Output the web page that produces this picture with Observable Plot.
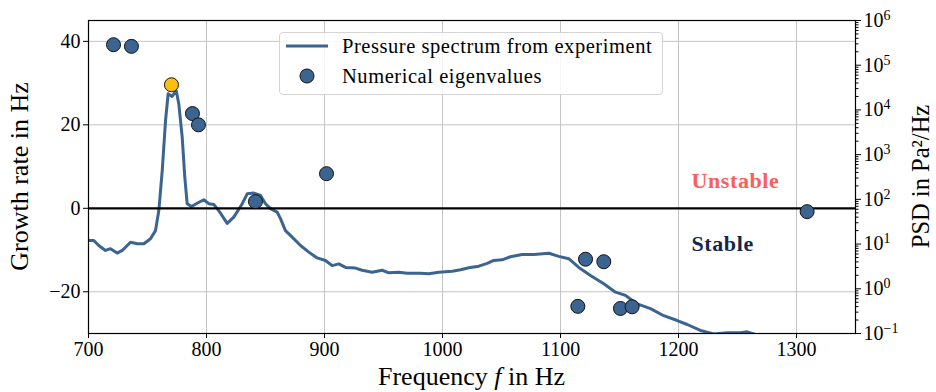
<!DOCTYPE html>
<html>
<head>
<meta charset="utf-8">
<script src="https://cdn.jsdelivr.net/npm/d3@7"></script>
<script src="https://cdn.jsdelivr.net/npm/@observablehq/plot@0.6"></script>
<style>
  html, body { margin: 0; padding: 0; background: #fff; }
  #wrap { position: relative; width: 936px; height: 392px; font-family: "Liberation Serif", serif; }
  #legend { position: absolute; left: 279px; top: 32px; width: 384px; height: 63px;
    border: 1px solid #d4d4d4; border-radius: 4px; background: rgba(255,255,255,0.85); box-sizing: border-box; }
</style>
</head>
<body>
<div id="wrap"></div>
<script>
// ---- data ----
const psdFreq = [700,704.5,708.7,714.4,718.6,724.3,728.6,735.6,741.3,746.9,752.5,756.8,759.6,762.5,765.3,767.5,770.9,774.3,776.5,779.4,781.6,783.6,787.3,792.1,797.7,801.9,806.2,811.9,817.5,823.1,830.3,834.5,840.1,845.8,850,854.2,859.9,862.7,866.9,872.6,879.7,886.7,893.8,900.8,906.5,912.1,917.8,926.3,931.9,940.4,948.9,954.5,963,970.1,981.4,988.4,996.9,1008.2,1015.3,1022.3,1030.8,1037.9,1043.5,1050.6,1057.6,1067.5,1077.4,1090.1,1098.6,1107,1115.5,1125.4,1136.7,1146.6,1155.1,1165,1176.3,1187.5,1198.9,1207.4,1218.6,1224.3,1229.9,1241.3,1252.5,1258.2,1263.8,1272,1285];
const psdValue = [12,12,9.3,7.2,7.9,6.3,7.2,11,10.2,10.2,13.1,20,56,443,5820,23000,20000,27300,13800,2460,314,80,69,82,98,80,77,49,29,40,80,133,138,122,80,62,52,37,20,14.3,9.3,6.6,4.9,4.3,3.3,3.6,3.0,2.9,2.6,2.35,2.6,2.28,2.35,2.23,2.23,2.17,2.35,2.48,2.66,2.95,3.2,3.7,4.3,4.45,5.2,5.85,5.85,6.25,5.3,4.7,3.0,1.99,1.29,0.84,0.71,0.46,0.36,0.25,0.195,0.159,0.117,0.107,0.098,0.104,0.104,0.109,0.098,0.08,0.06];

const eigFreq   = [721.2, 736.4, 770.3, 788.1, 793.2, 841.5, 901.7, 1309, 1121.2, 1136.7, 1114.7, 1150.8, 1160.7];
const eigGrowth = [39.2, 38.8, 29.6, 22.7, 20.0, 1.6, 8.3, -0.8, -12.2, -12.8, -23.5, -24.0, -23.6];
const eigHighlight = [false, false, true, false, false, false, false, false, false, false, false, false, false];

const xTicks = [700, 800, 900, 1000, 1100, 1200, 1300];
const yTicks = [-20, 0, 20, 40];
const psdTicks = [1e-1, 1e0, 1e1, 1e2, 1e3, 1e4, 1e5, 1e6];

const regionLabels = [
  {f: 1211, g: 6.6, text: "Unstable", color: "#ff5c5c"},
  {f: 1211, g: -8.6, text: "Stable", color: "#14264f"}
];

const legendLabels = ["Pressure spectrum from experiment", "Numerical eigenvalues"];

// ---- build tables ----
const psdData = psdFreq.map((f, i) => ({f, v: psdValue[i]}));
const eigData = eigFreq.map((f, i) => ({f, g: eigGrowth[i], hi: eigHighlight[i]}));
const psdMinor = [];
for (let e = -1; e < 6; e++) for (let k = 2; k <= 9; k++) psdMinor.push(k * Math.pow(10, e));

const BLUE = "#3b6491";
const common = {
  width: 936, height: 392,
  marginLeft: 88, marginRight: 81, marginTop: 20, marginBottom: 59,
  style: {fontFamily: "Liberation Serif, serif", fontSize: "20px", color: "#000", background: "transparent", overflow: "visible"}
};
const fmtMinus = d => d < 0 ? "\u2212" + Math.abs(d) : String(d);

// Layer 1: grid, bottom + left axes
const basePlot = Plot.plot({
  ...common,
  x: {domain: [700, 1350], axis: null},
  y: {domain: [-30, 45], axis: null},
  marks: [
    Plot.gridX(xTicks, {stroke: "#c4c4c4", strokeOpacity: 1, strokeWidth: 1}),
    Plot.gridY(yTicks.filter(d => d !== 0), {stroke: "#c4c4c4", strokeOpacity: 1, strokeWidth: 1}),
    Plot.axisX(xTicks, {tickSize: 5, tickPadding: 3, label: null, fontSize: 20, tickFormat: d => String(d)}),
    Plot.axisY(yTicks, {tickSize: 5, tickPadding: 3, label: null, fontSize: 20, tickFormat: fmtMinus})
  ]
});

// Layer 2: PSD line on the right log axis
const psdPlot = Plot.plot({
  ...common,
  x: {domain: [700, 1350], axis: null},
  y: {type: "log", domain: [0.1, 1e6], axis: null},
  marks: [
    Plot.line(psdData, {x: "f", y: "v", stroke: BLUE, strokeWidth: 3, clip: true}),
    Plot.axisY(psdMinor, {anchor: "right", tickSize: 2.5, label: null, tickFormat: () => ""}),
    Plot.axisY(psdTicks, {anchor: "right", tickSize: 5, tickPadding: 3, label: null, fontSize: 20,
      tickFormat: d => "10^" + Math.round(Math.log10(d))})
  ]
});

// Layer 3: zero line, eigenvalues, annotations, frame
const topPlot = Plot.plot({
  ...common,
  x: {domain: [700, 1350], axis: null},
  y: {domain: [-30, 45], axis: null},
  marks: [
    Plot.ruleY([0], {stroke: "#000", strokeWidth: 2.2}),
    Plot.dot(eigData, {x: "f", y: "g", r: 7, fill: d => d.hi ? "#fdbf0f" : BLUE, stroke: "#111", strokeWidth: 1}),
    Plot.text(regionLabels, {x: "f", y: "g", text: "text", fill: "color", textAnchor: "start",
      fontWeight: "bold", fontSize: 22}),
    Plot.frame({stroke: "#000", strokeWidth: 1.2})
  ]
});

const wrap = document.getElementById("wrap");
[basePlot, psdPlot, topPlot].forEach(s => { s.style.position = "absolute"; s.style.left = "0"; s.style.top = "0"; wrap.appendChild(s); });
d3.select(topPlot).selectAll("text").style("letter-spacing", "0.6px");

// superscript exponents on right axis
d3.select(psdPlot).selectAll("text").each(function() {
  const t = this.textContent;
  const m = /^10\^(-?\d+)$/.exec(t);
  if (m) {
    const sel = d3.select(this);
    sel.text("10");
    sel.append("tspan").attr("dy", "-0.5em").attr("font-size", "14px").text(m[1].replace("-", "\u2212"));
  }
});

// axis titles
const lab = d3.select(wrap).append("svg")
  .attr("width", 936).attr("height", 392)
  .style("position", "absolute").style("left", "0").style("top", "0")
  .style("font-family", "Liberation Serif, serif").style("pointer-events", "none");

const xl = lab.append("text").attr("x", 471.5).attr("y", 385).attr("text-anchor", "middle").attr("font-size", 26);
xl.append("tspan").text("Frequency ");
xl.append("tspan").attr("font-style", "italic").text("f");
xl.append("tspan").text(" in Hz");

lab.append("text").attr("transform", "translate(28,176.5) rotate(-90)").attr("text-anchor", "middle")
  .attr("font-size", 26).text("Growth rate in Hz");

lab.append("text").attr("transform", "translate(929,176.5) rotate(-90)").attr("text-anchor", "middle")
  .attr("font-size", 24.5).text("PSD in Pa\u00B2/Hz");

// legend
const leg = d3.select(wrap).append("div").attr("id", "legend");
const ls = leg.append("svg").attr("width", 382).attr("height", 61).style("font-family", "Liberation Serif, serif");
ls.append("line").attr("x1", 6).attr("x2", 48).attr("y1", 13).attr("y2", 13).attr("stroke", BLUE).attr("stroke-width", 3);
ls.append("circle").attr("cx", 27).attr("cy", 43).attr("r", 7).attr("fill", BLUE).attr("stroke", "#111").attr("stroke-width", 1);
ls.append("text").attr("x", 62).attr("y", 19.5).attr("font-size", 20.5).style("letter-spacing", "0.55px").text(legendLabels[0]);
ls.append("text").attr("x", 62).attr("y", 49.5).attr("font-size", 20.5).style("letter-spacing", "0.55px").text(legendLabels[1]);
</script>
</body>
</html>
